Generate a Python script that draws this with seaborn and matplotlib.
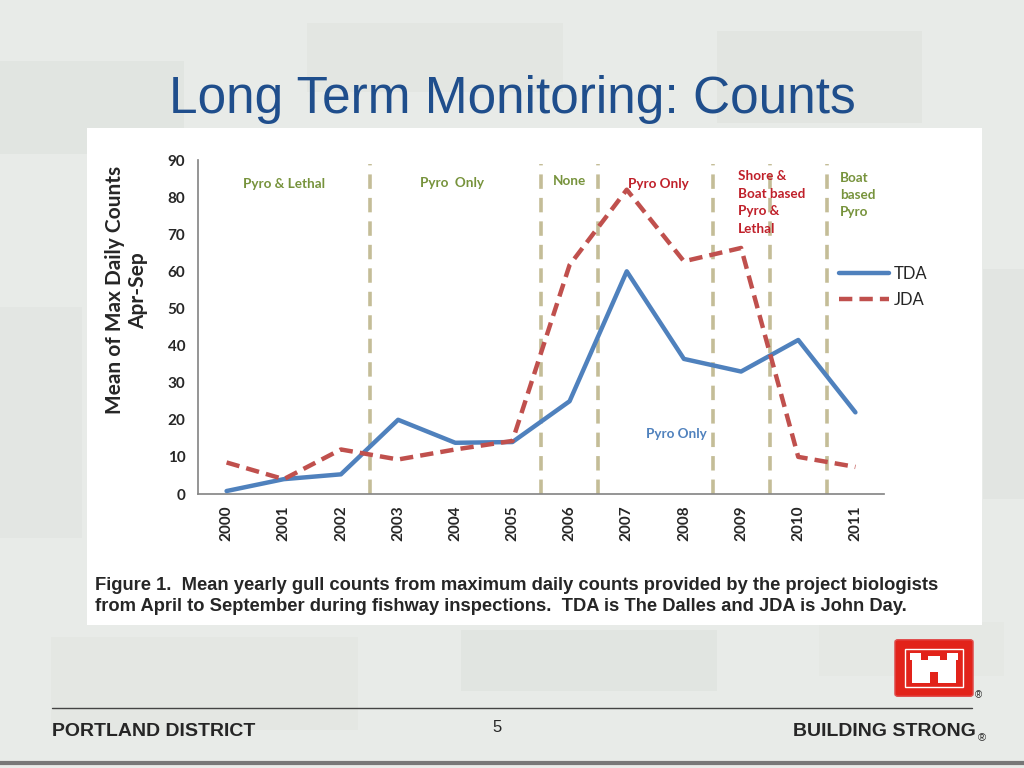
import pandas as pd
import matplotlib.pyplot as plt
import matplotlib.patches as mpatches
import seaborn as sns

# data
years = [2000, 2001, 2002, 2003, 2004, 2005, 2006, 2007, 2008, 2009, 2010, 2011]
tda = [0.8, 4.0, 5.3, 20.0, 13.8, 14.0, 25.0, 60.0, 36.4, 33.0, 41.5, 22.0]
jda = [8.5, 4.0, 12.0, 9.3, 12.0, 14.3, 61.7, 82.0, 62.7, 66.3, 10.0, 7.3]
# period boundaries (between years)
boundaries = [2002.5, 2005.5, 2006.5, 2008.5, 2009.5, 2010.5]

df = pd.DataFrame({
    'Year': years * 2,
    'Count': tda + jda,
    'Site': ['TDA'] * len(years) + ['JDA'] * len(years),
})

sns.set_theme(style="white")
plt.rcParams['font.family'] = ['Lato', 'DejaVu Sans']

fig = plt.figure(figsize=(10.24, 7.68), dpi=100)
fig.patch.set_facecolor('#e8ebe8')

# camouflage-like background blocks
camo = [(0.00, 0.80, 0.18, 0.12, '#e1e5e1'), (0.30, 0.88, 0.25, 0.09, '#e3e6e2'),
        (0.70, 0.84, 0.20, 0.12, '#e2e5e1'), (0.05, 0.05, 0.30, 0.12, '#e4e7e3'),
        (0.45, 0.10, 0.25, 0.08, '#e1e5e1'), (0.80, 0.12, 0.18, 0.07, '#e5e8e4'),
        (0.00, 0.30, 0.08, 0.30, '#e3e6e3'), (0.96, 0.35, 0.04, 0.30, '#e2e5e2')]
for x0, y0, w, h, c in camo:
    fig.patches.append(mpatches.Rectangle((x0, y0), w, h, transform=fig.transFigure,
                                          facecolor=c, edgecolor='none', zorder=-2))

# white chart panel
fig.patches.append(mpatches.Rectangle((87 / 1024, 1 - 625 / 768), 895 / 1024, 497 / 768,
                                      transform=fig.transFigure, facecolor='white',
                                      edgecolor='none', zorder=-1))

fig.text(0.5, 1 - 99 / 768, 'Long Term Monitoring: Counts', ha='center', va='center',
         fontsize=37, color='#1f4e8c', family='Liberation Sans')

ax = fig.add_axes([198 / 1024, 1 - 494 / 768, 686 / 1024, 334 / 768])
ax.set_facecolor('none')
ax.set_zorder(2)

for b in boundaries:
    ax.vlines(b, 0, 89, colors='#c4bd97', linestyles=(0, (4, 2.5)), linewidth=2.6, zorder=1)

sns.lineplot(data=df, x='Year', y='Count', hue='Site', style='Site',
             palette={'TDA': '#4f81bd', 'JDA': '#c0504d'},
             dashes={'TDA': '', 'JDA': (3, 1.6)}, linewidth=3.2, ax=ax, zorder=3)

ax.set_xlim(1999.5, 2011.5)
ax.set_ylim(0, 90)
ax.set_yticks(range(0, 91, 10))
ax.set_xticks([y - 0.5 for y in years] + [2011.5])
ax.set_xticklabels([])
ax.set_xticks(years, minor=True)
ax.set_xticklabels([str(y) for y in years], minor=True, rotation=90,
                   fontsize=11, fontweight='bold')
ax.tick_params(axis='x', which='major', length=6, color='#888888', direction='out')
ax.tick_params(axis='x', which='minor', length=0, pad=8)
ax.tick_params(axis='y', length=5, color='#888888', direction='out', labelsize=11, pad=4)
for lab in ax.get_yticklabels():
    lab.set_fontweight('bold')
for s in ['top', 'right']:
    ax.spines[s].set_visible(False)
for s in ['left', 'bottom']:
    ax.spines[s].set_color('#888888')
ax.set_xlabel('')
ax.set_ylabel('Mean of Max Daily Counts\nApr-Sep', fontsize=15, fontweight='bold',
              linespacing=1.2)
ax.yaxis.set_label_coords(-0.072, 0.61)

leg = ax.legend(loc='upper left', bbox_to_anchor=(0.913, 0.727), frameon=False,
                fontsize=12, handlelength=3.0, labelspacing=0.6, handletextpad=0.25)

green = '#77933c'
red = '#c0202a'
fs = 9.7
ax.text(2001.0, 83.5, 'Pyro & Lethal', color=green, fontsize=fs, fontweight='bold', ha='center', va='center')
ax.text(2003.95, 83.7, 'Pyro  Only', color=green, fontsize=fs, fontweight='bold', ha='center', va='center')
ax.text(2006.0, 84.3, 'None', color=green, fontsize=fs, fontweight='bold', ha='center', va='center')
ax.text(2007.55, 83.5, 'Pyro Only', color=red, fontsize=fs, fontweight='bold', ha='center', va='center')
ax.text(2008.95, 87.3, 'Shore &\nBoat based\nPyro &\nLethal', color=red, fontsize=fs,
        fontweight='bold', ha='left', va='top', linespacing=1.55)
ax.text(2010.73, 86.7, 'Boat\nbased\nPyro', color=green, fontsize=fs,
        fontweight='bold', ha='left', va='top', linespacing=1.5)
ax.text(2007.86, 16.2, 'Pyro Only', color='#4f81bd', fontsize=fs, fontweight='bold', ha='center', va='center')

fig.text(95 / 1024, 1 - 596 / 768,
         'Figure 1.  Mean yearly gull counts from maximum daily counts provided by the project biologists\n'
         'from April to September during fishway inspections.  TDA is The Dalles and JDA is John Day.',
         fontsize=13.2, fontweight='bold', family='Liberation Sans', ha='left', va='center',
         linespacing=1.35)

# footer
fig.add_artist(plt.Line2D([52 / 1024, 972 / 1024], [1 - 708 / 768] * 2, color='#444444', linewidth=1))
fig.text(52 / 1024, 1 - 732 / 768, 'PORTLAND DISTRICT', fontsize=14, fontweight='bold',
         family='Liberation Sans', ha='left', va='center')
fig.text(497 / 1024, 1 - 728 / 768, '5', fontsize=12, family='Liberation Sans', ha='center', va='center')
fig.text(976 / 1024, 1 - 732 / 768, 'BUILDING STRONG', fontsize=14, fontweight='bold',
         family='Liberation Sans', ha='right', va='center')
fig.text(978 / 1024, 1 - 738 / 768, '®', fontsize=8, family='Liberation Sans', ha='left', va='center')
fig.add_artist(plt.Line2D([0, 1], [1 - 763 / 768] * 2, color='#777777', linewidth=3))

# logo
fig.patches.append(mpatches.FancyBboxPatch((898 / 1024, 1 - 694 / 768), 72 / 1024, 52 / 768,
                                           boxstyle='round,pad=0.003', transform=fig.transFigure,
                                           facecolor='#e2231a', edgecolor='#e05050', zorder=2))
fig.patches.append(mpatches.Rectangle((905 / 1024, 1 - 687 / 768), 58 / 1024, 38 / 768,
                                      transform=fig.transFigure, facecolor='none',
                                      edgecolor='white', linewidth=1, zorder=3))
castle = [(912, 683), (912, 660), (910, 660), (910, 653), (921, 653), (921, 660), (928, 660),
          (928, 656), (940, 656), (940, 660), (947, 660), (947, 653), (958, 653), (958, 660),
          (956, 660), (956, 683), (938, 683), (938, 672), (930, 672), (930, 683)]
fig.patches.append(mpatches.Polygon([(x / 1024, 1 - y / 768) for x, y in castle], closed=True,
                                    transform=fig.transFigure, facecolor='white',
                                    edgecolor='none', zorder=3))
fig.text(978 / 1024, 1 - 695 / 768, '®', fontsize=7, family='Liberation Sans', ha='center', va='center')

plt.savefig('out.png', dpi=100, facecolor=fig.get_facecolor())
